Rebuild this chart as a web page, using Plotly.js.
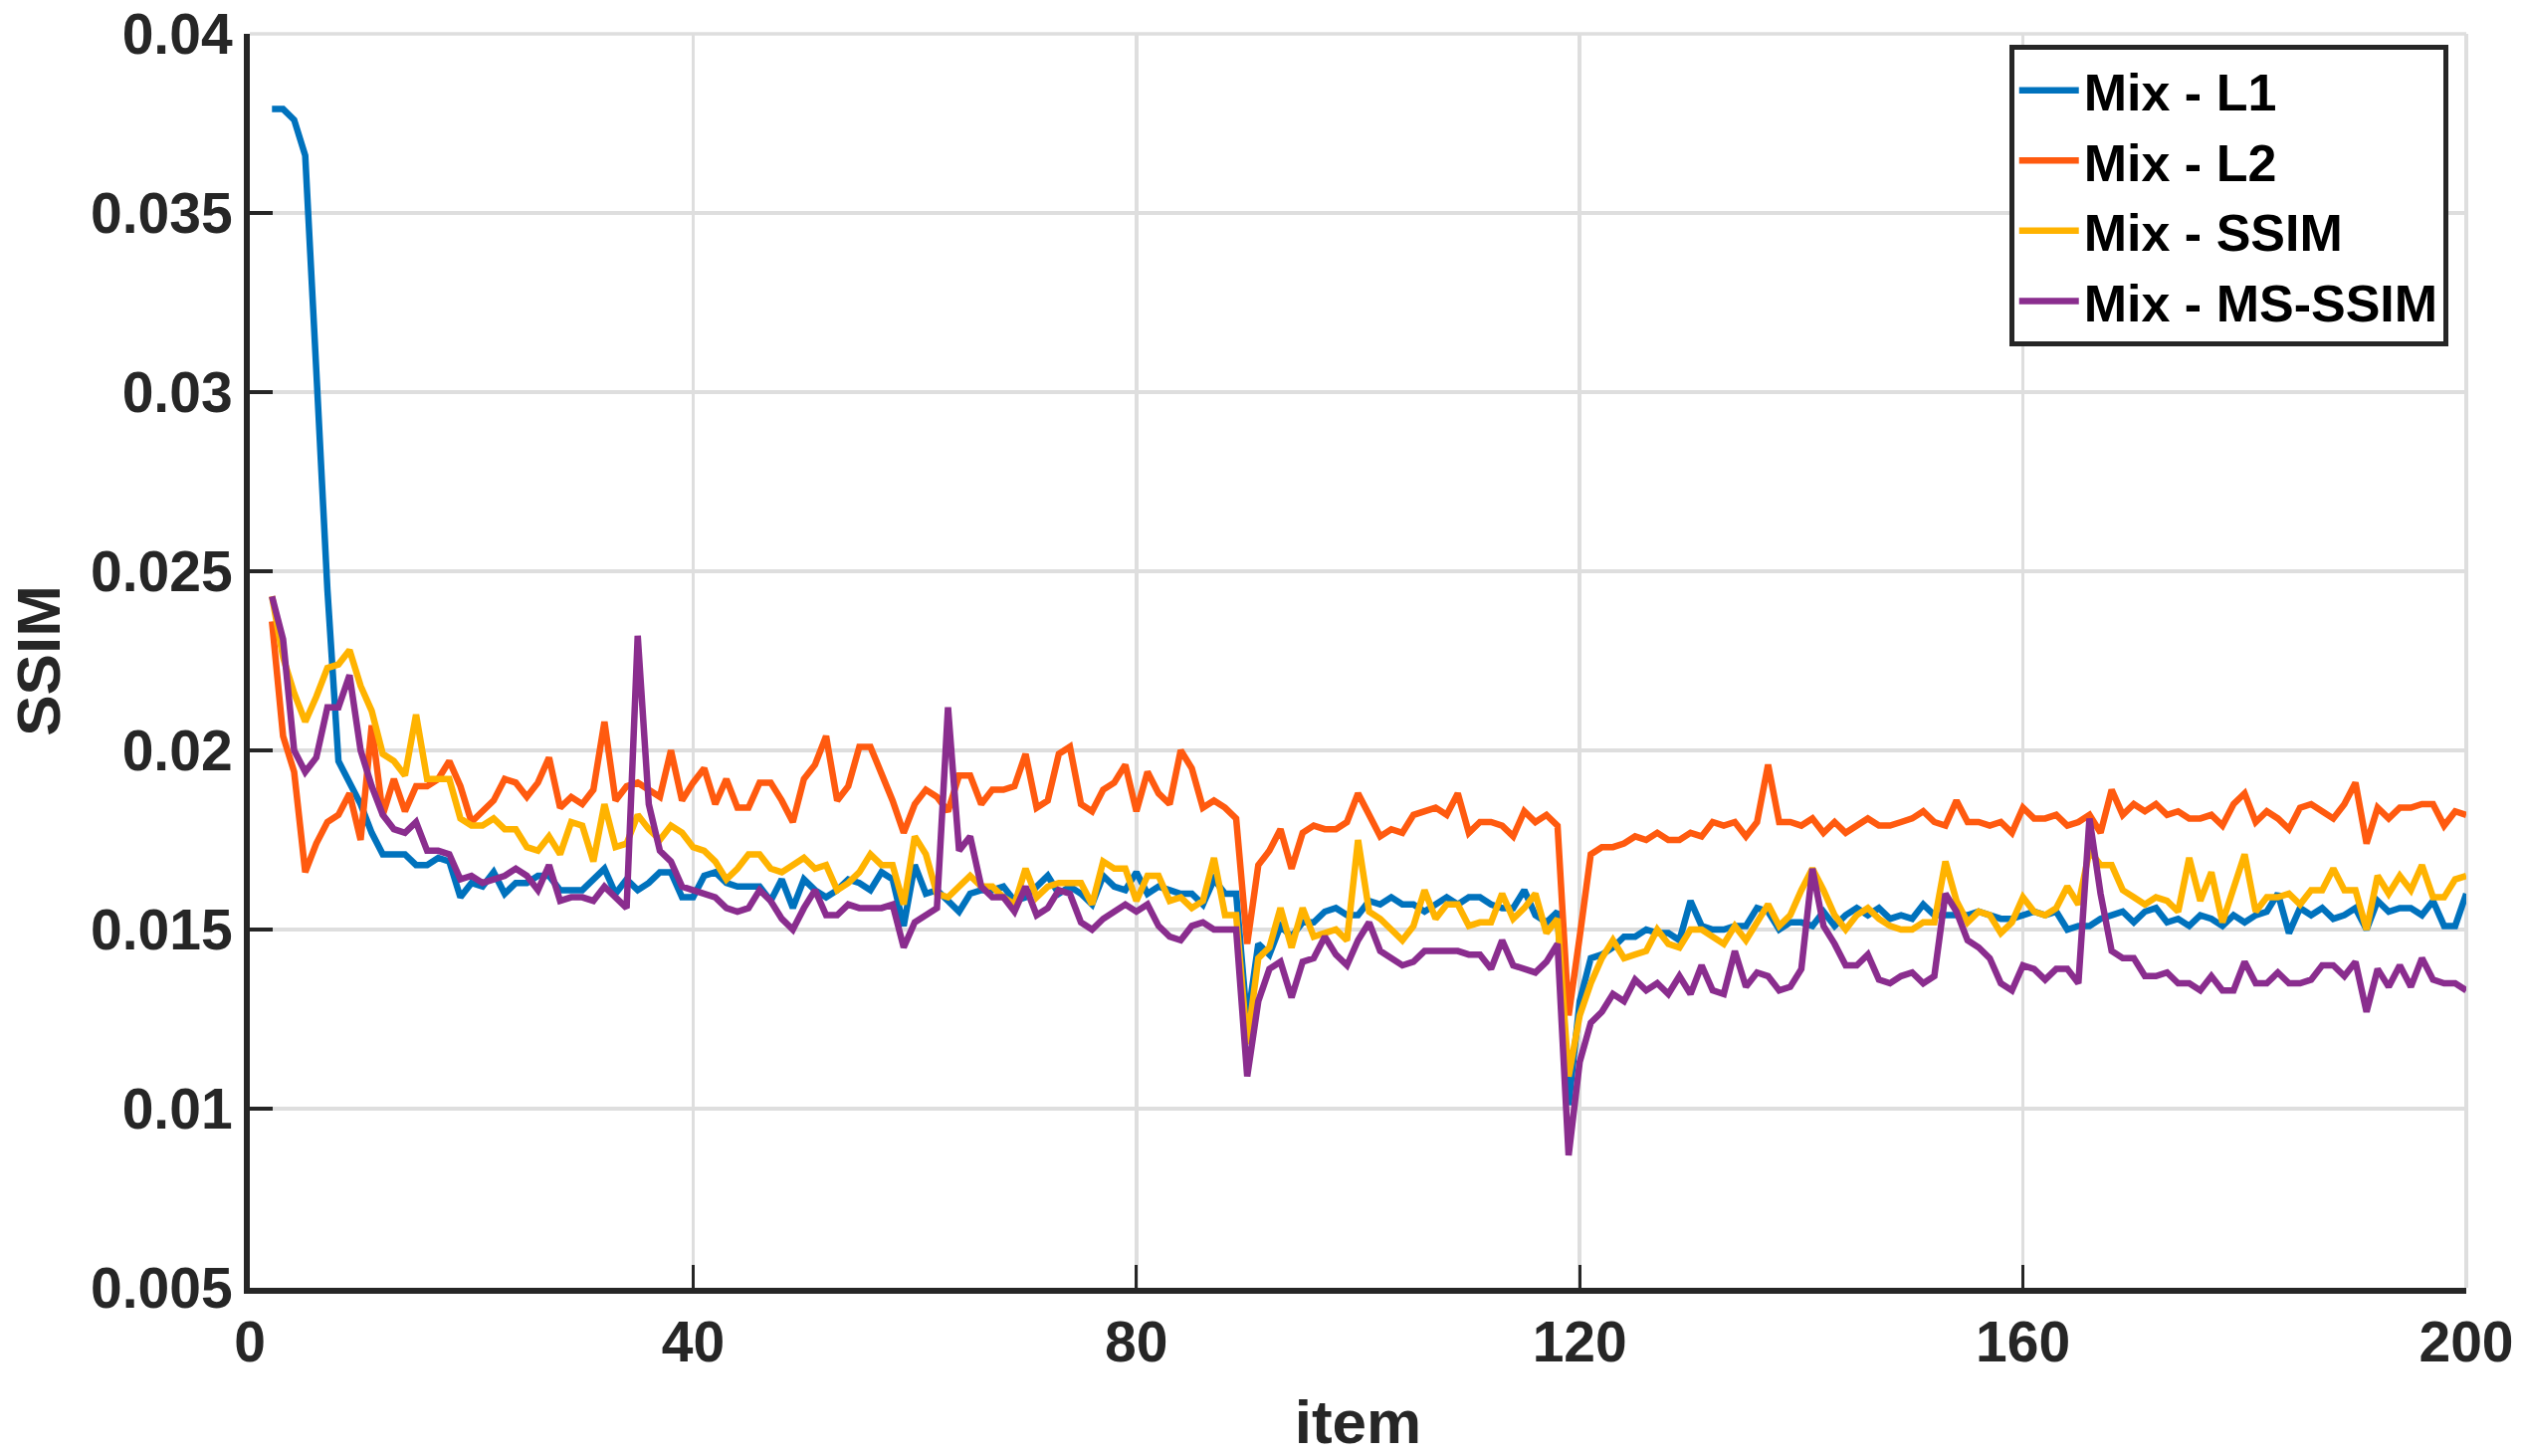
<!DOCTYPE html>
<html>
<head>
<meta charset="utf-8">
<script src="https://cdn.plot.ly/plotly-3.0.1.min.js"></script>
<style>
html, body { margin: 0; padding: 0; background: #ffffff; }
#chart { width: 2536px; height: 1463px; }
</style>
</head>
<body>
<div id="chart"></div>
<script>
// ---- data (items 2 .. 200) ----
const seriesNames = ['Mix - L1', 'Mix - L2', 'Mix - SSIM', 'Mix - MS-SSIM'];

const mixL1 = [
  0.0379, 0.0379, 0.0376, 0.0366, 0.0306, 0.0245, 0.0197, 0.0191, 0.0185,           // 2-10
  0.0177, 0.0171, 0.0171, 0.0171, 0.0168, 0.0168, 0.0170, 0.0169, 0.0159, 0.0163,   // 11-20
  0.0162, 0.0166, 0.0160, 0.0163, 0.0163, 0.0165, 0.0165, 0.0161, 0.0161, 0.0161,   // 21-30
  0.0164, 0.0167, 0.0160, 0.0164, 0.0161, 0.0163, 0.0166, 0.0166, 0.0159, 0.0159,   // 31-40
  0.0165, 0.0166, 0.0163, 0.0162, 0.0162, 0.0162, 0.0158, 0.0164, 0.0156, 0.0164,   // 41-50
  0.0161, 0.0159, 0.0161, 0.0164, 0.0163, 0.0161, 0.0166, 0.0164, 0.0151, 0.0168,   // 51-60
  0.0160, 0.0161, 0.0158, 0.0155, 0.0160, 0.0161, 0.0161, 0.0162, 0.0158, 0.0159,   // 61-70
  0.0162, 0.0165, 0.0160, 0.0162, 0.0160, 0.0157, 0.0165, 0.0162, 0.0161, 0.0166,   // 71-80
  0.0160, 0.0162, 0.0161, 0.0160, 0.0160, 0.0157, 0.0164, 0.0160, 0.0160, 0.0124,   // 81-90
  0.0146, 0.0143, 0.0151, 0.0148, 0.0152, 0.0152, 0.0155, 0.0156, 0.0154, 0.0154,   // 91-100
  0.0158, 0.0157, 0.0159, 0.0157, 0.0157, 0.0155, 0.0157, 0.0159, 0.0157, 0.0159,   // 101-110
  0.0159, 0.0157, 0.0156, 0.0156, 0.0161, 0.0154, 0.0152, 0.0155, 0.0101, 0.0130,   // 111-120
  0.0142, 0.0143, 0.0145, 0.0148, 0.0148, 0.0150, 0.0149, 0.0149, 0.0147, 0.0158,   // 121-130
  0.0151, 0.0150, 0.0150, 0.0151, 0.0151, 0.0156, 0.0155, 0.0150, 0.0152, 0.0152,   // 131-140
  0.0151, 0.0155, 0.0151, 0.0154, 0.0156, 0.0154, 0.0156, 0.0153, 0.0154, 0.0153,   // 141-150
  0.0157, 0.0154, 0.0154, 0.0154, 0.0154, 0.0155, 0.0154, 0.0153, 0.0153, 0.0154,   // 151-160
  0.0155, 0.0154, 0.0155, 0.0150, 0.0151, 0.0151, 0.0153, 0.0154, 0.0155, 0.0152,   // 161-170
  0.0155, 0.0156, 0.0152, 0.0153, 0.0151, 0.0154, 0.0153, 0.0151, 0.0154, 0.0152,   // 171-180
  0.0154, 0.0155, 0.0160, 0.0149, 0.0156, 0.0154, 0.0156, 0.0153, 0.0154, 0.0156,   // 181-190
  0.0150, 0.0158, 0.0155, 0.0156, 0.0156, 0.0154, 0.0158, 0.0151, 0.0151, 0.0160    // 191-200
];

const mixL2 = [
  0.0236, 0.0204, 0.0194, 0.0166, 0.0174, 0.0180, 0.0182, 0.0188, 0.0175,           // 2-10
  0.0207, 0.0182, 0.0192, 0.0183, 0.0190, 0.0190, 0.0192, 0.0197, 0.0190, 0.0180,   // 11-20
  0.0183, 0.0186, 0.0192, 0.0191, 0.0187, 0.0191, 0.0198, 0.0184, 0.0187, 0.0185,   // 21-30
  0.0189, 0.0208, 0.0186, 0.0190, 0.0191, 0.0189, 0.0187, 0.0200, 0.0186, 0.0191,   // 31-40
  0.0195, 0.0185, 0.0192, 0.0184, 0.0184, 0.0191, 0.0191, 0.0186, 0.0180, 0.0192,   // 41-50
  0.0196, 0.0204, 0.0186, 0.0190, 0.0201, 0.0201, 0.0194, 0.0186, 0.0177, 0.0185,   // 51-60
  0.0189, 0.0187, 0.0183, 0.0193, 0.0193, 0.0185, 0.0189, 0.0189, 0.0190, 0.0199,   // 61-70
  0.0184, 0.0186, 0.0199, 0.0201, 0.0185, 0.0183, 0.0189, 0.0191, 0.0196, 0.0183,   // 71-80
  0.0194, 0.0188, 0.0185, 0.0200, 0.0195, 0.0184, 0.0186, 0.0184, 0.0181, 0.0146,   // 81-90
  0.0168, 0.0172, 0.0178, 0.0167, 0.0177, 0.0179, 0.0178, 0.0178, 0.0180, 0.0188,   // 91-100
  0.0182, 0.0176, 0.0178, 0.0177, 0.0182, 0.0183, 0.0184, 0.0182, 0.0188, 0.0177,   // 101-110
  0.0180, 0.0180, 0.0179, 0.0176, 0.0183, 0.0180, 0.0182, 0.0179, 0.0126, 0.0148,   // 111-120
  0.0171, 0.0173, 0.0173, 0.0174, 0.0176, 0.0175, 0.0177, 0.0175, 0.0175, 0.0177,   // 121-130
  0.0176, 0.0180, 0.0179, 0.0180, 0.0176, 0.0180, 0.0196, 0.0180, 0.0180, 0.0179,   // 131-140
  0.0181, 0.0177, 0.0180, 0.0177, 0.0179, 0.0181, 0.0179, 0.0179, 0.0180, 0.0181,   // 141-150
  0.0183, 0.0180, 0.0179, 0.0186, 0.0180, 0.0180, 0.0179, 0.0180, 0.0177, 0.0184,   // 151-160
  0.0181, 0.0181, 0.0182, 0.0179, 0.0180, 0.0182, 0.0177, 0.0189, 0.0182, 0.0185,   // 161-170
  0.0183, 0.0185, 0.0182, 0.0183, 0.0181, 0.0181, 0.0182, 0.0179, 0.0185, 0.0188,   // 171-180
  0.0180, 0.0183, 0.0181, 0.0178, 0.0184, 0.0185, 0.0183, 0.0181, 0.0185, 0.0191,   // 181-190
  0.0174, 0.0184, 0.0181, 0.0184, 0.0184, 0.0185, 0.0185, 0.0179, 0.0183, 0.0182    // 191-200
];

const mixSSIM = [
  0.0243, 0.0226, 0.0216, 0.0208, 0.0215, 0.0223, 0.0224, 0.0228, 0.0218,           // 2-10
  0.0211, 0.0199, 0.0197, 0.0193, 0.0210, 0.0192, 0.0192, 0.0192, 0.0181, 0.0179,   // 11-20
  0.0179, 0.0181, 0.0178, 0.0178, 0.0173, 0.0172, 0.0176, 0.0171, 0.0180, 0.0179,   // 21-30
  0.0169, 0.0185, 0.0173, 0.0174, 0.0182, 0.0178, 0.0175, 0.0179, 0.0177, 0.0173,   // 31-40
  0.0172, 0.0169, 0.0164, 0.0167, 0.0171, 0.0171, 0.0167, 0.0166, 0.0168, 0.0170,   // 41-50
  0.0167, 0.0168, 0.0161, 0.0163, 0.0166, 0.0171, 0.0168, 0.0168, 0.0157, 0.0176,   // 51-60
  0.0171, 0.0160, 0.0159, 0.0162, 0.0165, 0.0162, 0.0162, 0.0159, 0.0157, 0.0167,   // 61-70
  0.0159, 0.0162, 0.0163, 0.0163, 0.0163, 0.0157, 0.0169, 0.0167, 0.0167, 0.0158,   // 71-80
  0.0165, 0.0165, 0.0158, 0.0159, 0.0156, 0.0158, 0.0170, 0.0154, 0.0154, 0.0118,   // 81-90
  0.0142, 0.0145, 0.0156, 0.0145, 0.0156, 0.0148, 0.0149, 0.0150, 0.0147, 0.0175,   // 91-100
  0.0155, 0.0153, 0.0150, 0.0147, 0.0151, 0.0161, 0.0153, 0.0157, 0.0157, 0.0151,   // 101-110
  0.0152, 0.0152, 0.0160, 0.0153, 0.0156, 0.0160, 0.0149, 0.0153, 0.0109, 0.0126,   // 111-120
  0.0135, 0.0142, 0.0147, 0.0142, 0.0143, 0.0144, 0.0150, 0.0146, 0.0145, 0.0150,   // 121-130
  0.0150, 0.0148, 0.0146, 0.0151, 0.0147, 0.0152, 0.0157, 0.0151, 0.0154, 0.0161,   // 131-140
  0.0167, 0.0161, 0.0154, 0.0150, 0.0154, 0.0156, 0.0153, 0.0151, 0.0150, 0.0150,   // 141-150
  0.0152, 0.0152, 0.0169, 0.0158, 0.0152, 0.0155, 0.0154, 0.0149, 0.0152, 0.0159,   // 151-160
  0.0155, 0.0154, 0.0156, 0.0162, 0.0157, 0.0172, 0.0168, 0.0168, 0.0161, 0.0159,   // 161-170
  0.0157, 0.0159, 0.0158, 0.0155, 0.0170, 0.0158, 0.0166, 0.0152, 0.0161, 0.0171,   // 171-180
  0.0155, 0.0159, 0.0159, 0.0160, 0.0157, 0.0161, 0.0161, 0.0167, 0.0161, 0.0161,   // 181-190
  0.0150, 0.0165, 0.0160, 0.0165, 0.0161, 0.0168, 0.0159, 0.0159, 0.0164, 0.0165    // 191-200
];

const mixMSSSIM = [
  0.0243, 0.0231, 0.0200, 0.0194, 0.0198, 0.0212, 0.0212, 0.0221, 0.0200,           // 2-10
  0.0190, 0.0182, 0.0178, 0.0177, 0.0180, 0.0172, 0.0172, 0.0171, 0.0164, 0.0165,   // 11-20
  0.0163, 0.0164, 0.0165, 0.0167, 0.0165, 0.0161, 0.0168, 0.0158, 0.0159, 0.0159,   // 21-30
  0.0158, 0.0162, 0.0159, 0.0156, 0.0232, 0.0185, 0.0172, 0.0169, 0.0162, 0.0161,   // 31-40
  0.0160, 0.0159, 0.0156, 0.0155, 0.0156, 0.0161, 0.0158, 0.0153, 0.0150, 0.0156,   // 41-50
  0.0161, 0.0154, 0.0154, 0.0157, 0.0156, 0.0156, 0.0156, 0.0157, 0.0145, 0.0152,   // 51-60
  0.0154, 0.0156, 0.0212, 0.0172, 0.0176, 0.0162, 0.0159, 0.0159, 0.0155, 0.0162,   // 61-70
  0.0154, 0.0156, 0.0161, 0.0160, 0.0152, 0.0150, 0.0153, 0.0155, 0.0157, 0.0155,   // 71-80
  0.0157, 0.0151, 0.0148, 0.0147, 0.0151, 0.0152, 0.0150, 0.0150, 0.0150, 0.0109,   // 81-90
  0.0130, 0.0139, 0.0141, 0.0131, 0.0141, 0.0142, 0.0148, 0.0143, 0.0140, 0.0147,   // 91-100
  0.0152, 0.0144, 0.0142, 0.0140, 0.0141, 0.0144, 0.0144, 0.0144, 0.0144, 0.0143,   // 101-110
  0.0143, 0.0139, 0.0147, 0.0140, 0.0139, 0.0138, 0.0141, 0.0146, 0.0087, 0.0113,   // 111-120
  0.0124, 0.0127, 0.0132, 0.0130, 0.0136, 0.0133, 0.0135, 0.0132, 0.0137, 0.0132,   // 121-130
  0.0140, 0.0133, 0.0132, 0.0144, 0.0134, 0.0138, 0.0137, 0.0133, 0.0134, 0.0139,   // 131-140
  0.0167, 0.0151, 0.0146, 0.0140, 0.0140, 0.0143, 0.0136, 0.0135, 0.0137, 0.0138,   // 141-150
  0.0135, 0.0137, 0.0160, 0.0155, 0.0147, 0.0145, 0.0142, 0.0135, 0.0133, 0.0140,   // 151-160
  0.0139, 0.0136, 0.0139, 0.0139, 0.0135, 0.0181, 0.0160, 0.0144, 0.0142, 0.0142,   // 161-170
  0.0137, 0.0137, 0.0138, 0.0135, 0.0135, 0.0133, 0.0137, 0.0133, 0.0133, 0.0141,   // 171-180
  0.0135, 0.0135, 0.0138, 0.0135, 0.0135, 0.0136, 0.0140, 0.0140, 0.0137, 0.0141,   // 181-190
  0.0127, 0.0139, 0.0134, 0.0140, 0.0134, 0.0142, 0.0136, 0.0135, 0.0135, 0.0133    // 191-200
];

const items = mixL1.map((_, i) => i + 2);   // item index 2 .. 200

const xTickVals = [0, 40, 80, 120, 160, 200];
const xTickText = ['0', '40', '80', '120', '160', '200'];
const yTickVals = [0.005, 0.01, 0.015, 0.02, 0.025, 0.03, 0.035, 0.04];
const yTickText = ['0.005', '0.01', '0.015', '0.02', '0.025', '0.03', '0.035', '0.04'];

// ---- styling ----
const colors = ['#0072BD', '#FF5A0F', '#FFB300', '#8A2D8E'];
const fontFamily = '"Liberation Sans", Arial, Helvetica, sans-serif';
const axisColor = '#262626';
const gridColor = '#dedede';

const allSeries = [mixL1, mixL2, mixSSIM, mixMSSSIM];
const traces = allSeries.map((vals, k) => ({
  type: 'scatter',
  mode: 'lines',
  name: seriesNames[k],
  x: items,
  y: vals,
  line: { color: colors[k], width: 6.5 }
}));

const axisCommon = {
  showline: true,
  linecolor: axisColor,
  linewidth: 6,
  mirror: false,
  ticks: 'inside',
  ticklen: 23,
  tickcolor: axisColor,
  showgrid: true,
  gridcolor: gridColor,
  gridwidth: 3.5,
  zeroline: false,
  tickfont: { family: fontFamily, size: 57, color: axisColor, weight: 'bold' }
};

const layout = {
  width: 2536,
  height: 1463,
  paper_bgcolor: '#ffffff',
  plot_bgcolor: '#ffffff',
  margin: { l: 251, r: 58, t: 34, b: 169, pad: 0 },
  showlegend: true,
  legend: {
    x: 0.9918, xanchor: 'right',
    y: 0.991, yanchor: 'top',
    bgcolor: '#ffffff',
    bordercolor: axisColor,
    borderwidth: 5,
    itemwidth: 60,
    tracegroupgap: 0,
    font: { family: fontFamily, size: 52, color: '#000000', weight: 'bold' }
  },
  xaxis: Object.assign({}, axisCommon, {
    range: [0, 200],
    tickmode: 'array',
    tickvals: xTickVals,
    ticktext: xTickText,
    tickwidth: 3,
    title: { text: 'item', font: { family: fontFamily, size: 62, color: axisColor, weight: 'bold' }, standoff: 30 }
  }),
  yaxis: Object.assign({}, axisCommon, {
    range: [0.005, 0.04],
    tickmode: 'array',
    tickvals: yTickVals,
    ticktext: yTickText,
    tickwidth: 4,
    title: { text: 'SSIM', font: { family: fontFamily, size: 62, color: axisColor, weight: 'bold' }, standoff: 12 }
  }),
  shapes: [
    { type: 'line', xref: 'paper', yref: 'paper', x0: 0, x1: 1, y0: 1, y1: 1, layer: 'below',
      line: { color: gridColor, width: 3.5 } },
    { type: 'line', xref: 'paper', yref: 'paper', x0: 1, x1: 1, y0: 0, y1: 1, layer: 'below',
      line: { color: gridColor, width: 4 } }
  ]
};

Plotly.newPlot('chart', traces, layout, { displayModeBar: false, staticPlot: true });
</script>
</body>
</html>
